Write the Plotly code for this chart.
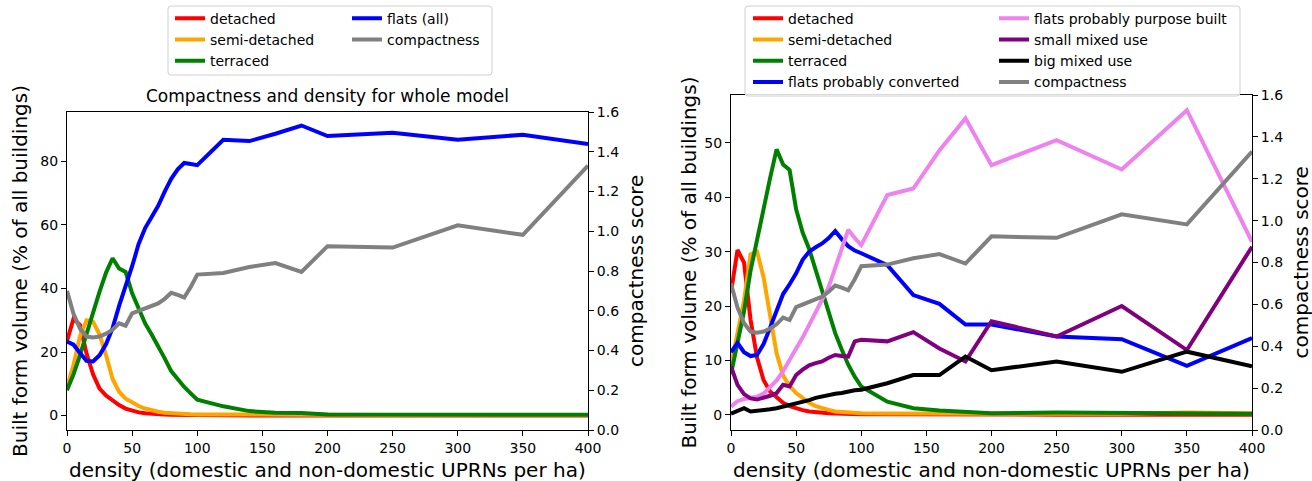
import plotly.graph_objects as go

# ---------------- data ----------------
density = [0, 5, 10, 15, 20, 25, 30, 35, 40, 45, 50, 55, 60, 65, 70, 75, 80, 85, 90, 95, 100,
           120, 140, 160, 180, 200, 250, 300, 350, 400]

compactness = [0.70, 0.585, 0.51, 0.47, 0.465, 0.47, 0.485, 0.505, 0.537, 0.525, 0.587, 0.60, 0.612,
               0.625, 0.637, 0.66, 0.69, 0.68, 0.667, 0.72, 0.782, 0.79, 0.82, 0.84, 0.795, 0.925,
               0.918, 1.03, 0.982, 1.33]

# left panel: whole model
left_detached = [23.5, 30.5, 28.5, 19.5, 13.0, 8.5, 6.3, 4.8, 3.3, 2.2, 1.5, 1.0, 0.7, 0.5, 0.4, 0.3,
                 0.25, 0.2, 0.15, 0.12, 0.1, 0.08, 0.05, 0.04, 0.03, 0.02, 0.02, 0.02, 0.02, 0.02]
left_semi = [9.0, 16.0, 25.0, 30.0, 29.5, 25.5, 19.0, 11.5, 7.5, 5.3, 4.2, 3.0, 2.2, 1.6, 1.2, 0.9,
             0.7, 0.55, 0.45, 0.4, 0.35, 0.3, 0.25, 0.2, 0.2, 0.2, 0.2, 0.2, 0.3, 0.2]
left_terraced = [8.0, 13.0, 19.0, 26.0, 33.0, 39.0, 45.0, 49.5, 46.3, 45.2, 38.5, 33.5, 29.0, 25.5,
                 22.0, 18.0, 14.0, 11.5, 9.0, 7.0, 5.0, 2.9, 1.4, 0.9, 0.8, 0.35, 0.4, 0.3, 0.3, 0.25]
left_flats = [23.3, 22.3, 19.7, 17.2, 17.0, 19.0, 22.5, 27.5, 34.5, 40.5, 47.0, 54.0, 59.0, 62.5,
              66.0, 70.5, 74.5, 77.5, 79.5, 79.2, 78.8, 86.8, 86.4, 88.7, 91.3, 88.0, 89.0, 86.8,
              88.4, 85.5]

# right panel: detailed types
right_detached = [22.5, 30.3, 28.0, 17.5, 10.5, 6.4, 4.3, 3.2, 2.2, 1.6, 1.2, 0.85, 0.6, 0.45, 0.35,
                  0.3, 0.25, 0.2, 0.15, 0.12, 0.1, 0.08, 0.05, 0.04, 0.03, 0.02, 0.02, 0.02, 0.02, 0.02]
right_semi = [9.0, 15.0, 21.0, 29.5, 30.0, 25.3, 18.0, 11.3, 7.2, 5.3, 4.0, 3.0, 2.2, 1.6, 1.2, 0.9,
              0.6, 0.5, 0.4, 0.35, 0.3, 0.25, 0.2, 0.2, 0.2, 0.2, 0.2, 0.2, 0.4, 0.3]
right_terraced = [7.5, 13.0, 19.0, 26.5, 32.5, 37.8, 43.5, 48.8, 46.0, 45.0, 37.8, 33.5, 30.5, 26.5,
                  23.0, 19.0, 15.0, 12.0, 9.2, 7.0, 5.2, 2.4, 1.2, 0.8, 0.6, 0.3, 0.4, 0.3, 0.2, 0.2]
right_flats_converted = [11.5, 13.2, 11.5, 10.8, 11.0, 13.0, 16.0, 19.3, 22.2, 24.0, 26.0, 28.5, 30.0,
                         30.8, 31.5, 32.5, 33.8, 32.3, 31.0, 30.2, 29.7, 27.5, 22.0, 20.4, 16.6, 16.6,
                         14.4, 13.9, 9.0, 14.1]
right_flats_purpose = [1.5, 2.5, 2.9, 3.1, 3.3, 3.9, 5.0, 6.3, 8.0, 10.2, 12.2, 14.2, 16.5, 18.6, 21.0,
                       23.5, 27.0, 30.5, 34.0, 32.5, 31.2, 40.4, 41.6, 48.6, 54.5, 45.9, 50.5, 45.1,
                       56.0, 31.8]
right_small_mixed = [8.9, 5.5, 3.8, 3.0, 2.8, 3.1, 3.5, 4.0, 5.5, 5.2, 7.3, 8.3, 9.1, 9.5, 9.8, 10.5,
                     11.0, 10.8, 10.7, 13.5, 13.8, 13.5, 15.2, 12.2, 9.8, 17.2, 14.4, 20.0, 11.9, 30.9]
right_big_mixed = [0.2, 0.7, 1.2, 0.6, 0.7, 0.8, 1.0, 1.2, 1.5, 1.8, 2.0, 2.4, 2.7, 3.1, 3.4, 3.6,
                   3.85, 4.0, 4.3, 4.5, 4.6, 5.8, 7.3, 7.3, 10.7, 8.2, 9.8, 7.9, 11.6, 8.9]

x_ticks = [0, 50, 100, 150, 200, 250, 300, 350, 400]

title_text = "Compactness and density for whole model"
x_title = "density (domestic and non-domestic UPRNs per ha)"
y_title = "Built form volume (% of all buildings)"
y2_title = "compactness score"

# ---------------- geometry helpers ----------------
W, H = 1312, 481
FONT = "DejaVu Sans"
LW = 4


def px(x):
    return x / W


def py(y):
    return 1 - y / H


fig = go.Figure()

left_series = [
    ("detached", left_detached, "#ff0000", "legend"),
    ("semi-detached", left_semi, "#ffa500", "legend"),
    ("terraced", left_terraced, "#008000", "legend"),
    ("flats (all)", left_flats, "#0000ff", "legend2"),
]
for name, vals, col, lg in left_series:
    fig.add_trace(go.Scatter(x=density, y=vals, name=name, mode="lines",
                             line=dict(color=col, width=LW), xaxis="x", yaxis="y", legend=lg))
fig.add_trace(go.Scatter(x=density, y=compactness, name="compactness", mode="lines",
                         line=dict(color="#808080", width=LW), xaxis="x", yaxis="y2", legend="legend2"))

right_series = [
    ("detached", right_detached, "#ff0000", "legend3"),
    ("semi-detached", right_semi, "#ffa500", "legend3"),
    ("terraced", right_terraced, "#008000", "legend3"),
    ("flats probably converted", right_flats_converted, "#0000ff", "legend3"),
    ("flats probably purpose built", right_flats_purpose, "#ee82ee", "legend4"),
    ("small mixed use", right_small_mixed, "#800080", "legend4"),
    ("big mixed use", right_big_mixed, "#000000", "legend4"),
]
for name, vals, col, lg in right_series:
    fig.add_trace(go.Scatter(x=density, y=vals, name=name, mode="lines",
                             line=dict(color=col, width=LW), xaxis="x2", yaxis="y3", legend=lg))
fig.add_trace(go.Scatter(x=density, y=compactness, name="compactness", mode="lines",
                         line=dict(color="#808080", width=LW), xaxis="x2", yaxis="y4", legend="legend4"))

tickfont = dict(family=FONT, size=14, color="#000000")
common = dict(showline=True, linecolor="#000000", linewidth=1, ticks="outside", ticklen=5,
              tickwidth=1, tickcolor="#000000", showgrid=False, zeroline=False, tickfont=tickfont,
              automargin=False)

L_x = [px(67), px(588)]
R_x = [px(731), px(1252)]
L_y = [py(430), py(112)]
R_y = [py(430), py(95)]

fig.update_layout(
    width=W, height=H,
    margin=dict(l=0, r=0, t=0, b=0, autoexpand=False),
    paper_bgcolor="white", plot_bgcolor="white",
    font=dict(family=FONT, color="#000000"),
    xaxis=dict(domain=L_x, range=[0, 400], tickvals=x_ticks, anchor="y", mirror=True, **common),
    yaxis=dict(domain=L_y, range=[-4.55, 95.55], tick0=0, dtick=20, anchor="x", mirror=True, **common),
    yaxis2=dict(range=[0, 1.6], tick0=0, dtick=0.2, tickformat=".1f", overlaying="y", side="right",
                anchor="x", **common),
    xaxis2=dict(domain=R_x, range=[0, 400], tickvals=x_ticks, anchor="y3", mirror=True, **common),
    yaxis3=dict(domain=R_y, range=[-2.8, 58.8], tick0=0, dtick=10, anchor="x2", mirror=True, **common),
    yaxis4=dict(range=[0, 1.6], tick0=0, dtick=0.2, tickformat=".1f", overlaying="y3", side="right",
                anchor="x2", **common),
)

leg_common = dict(xanchor="left", yanchor="top", bgcolor="rgba(0,0,0,0)", borderwidth=0,
                  font=dict(family=FONT, size=14, color="#000000"), tracegroupgap=0,
                  orientation="v")
fig.update_layout(
    legend=dict(x=px(170), y=py(2.7), **leg_common),
    legend2=dict(x=px(347), y=py(2.7), **leg_common),
    legend3=dict(x=px(748), y=py(2.7), **leg_common),
    legend4=dict(x=px(994), y=py(2.7), **leg_common),
)


# legend frames with rounded corners (matplotlib fancybox style)
def rounded_rect(x0, y0, x1, y1, r=3):
    rx, ry = r / W, r / H
    X0, X1 = px(x0), px(x1)
    Yt, Yb = py(y0), py(y1)
    return (f"M{X0 + rx},{Yt} L{X1 - rx},{Yt} Q{X1},{Yt} {X1},{Yt - ry} "
            f"L{X1},{Yb + ry} Q{X1},{Yb} {X1 - rx},{Yb} "
            f"L{X0 + rx},{Yb} Q{X0},{Yb} {X0},{Yb + ry} "
            f"L{X0},{Yt - ry} Q{X0},{Yt} {X0 + rx},{Yt} Z")


for x0, x1, y0, y1 in [(168, 492, 6, 75), (745, 1240, 6, 96)]:
    fig.add_shape(type="path", xref="paper", yref="paper", path=rounded_rect(x0, y0, x1, y1),
                  line=dict(color="#d0d0d0", width=1), fillcolor="rgba(255,255,255,0.85)",
                  layer="above")

ann = []
ann.append(dict(text=title_text, x=px(327.5), y=py(96), xref="paper", yref="paper",
                showarrow=False, xanchor="center", yanchor="middle",
                font=dict(family=FONT, size=17, color="#000000")))
for cx in [327.5, 991.5]:
    ann.append(dict(text=x_title, x=px(cx), y=py(470), xref="paper", yref="paper",
                    showarrow=False, xanchor="center", yanchor="middle",
                    font=dict(family=FONT, size=20, color="#000000")))
for cx, cy in [(20, 271), (688, 262.5)]:
    ann.append(dict(text=y_title, x=px(cx), y=py(cy), xref="paper", yref="paper",
                    showarrow=False, xanchor="center", yanchor="middle", textangle=-90,
                    font=dict(family=FONT, size=20, color="#000000")))
for cx, cy in [(636, 271), (1300, 262.5)]:
    ann.append(dict(text=y2_title, x=px(cx), y=py(cy), xref="paper", yref="paper",
                    showarrow=False, xanchor="center", yanchor="middle", textangle=-90,
                    font=dict(family=FONT, size=20, color="#000000")))
fig.update_layout(annotations=ann)

fig.write_html(
    "out.html",
    config={"displayModeBar": False},
    post_script="document.body.style.margin='0';document.body.style.padding='0';"
                "document.body.style.overflow='hidden';",
)
